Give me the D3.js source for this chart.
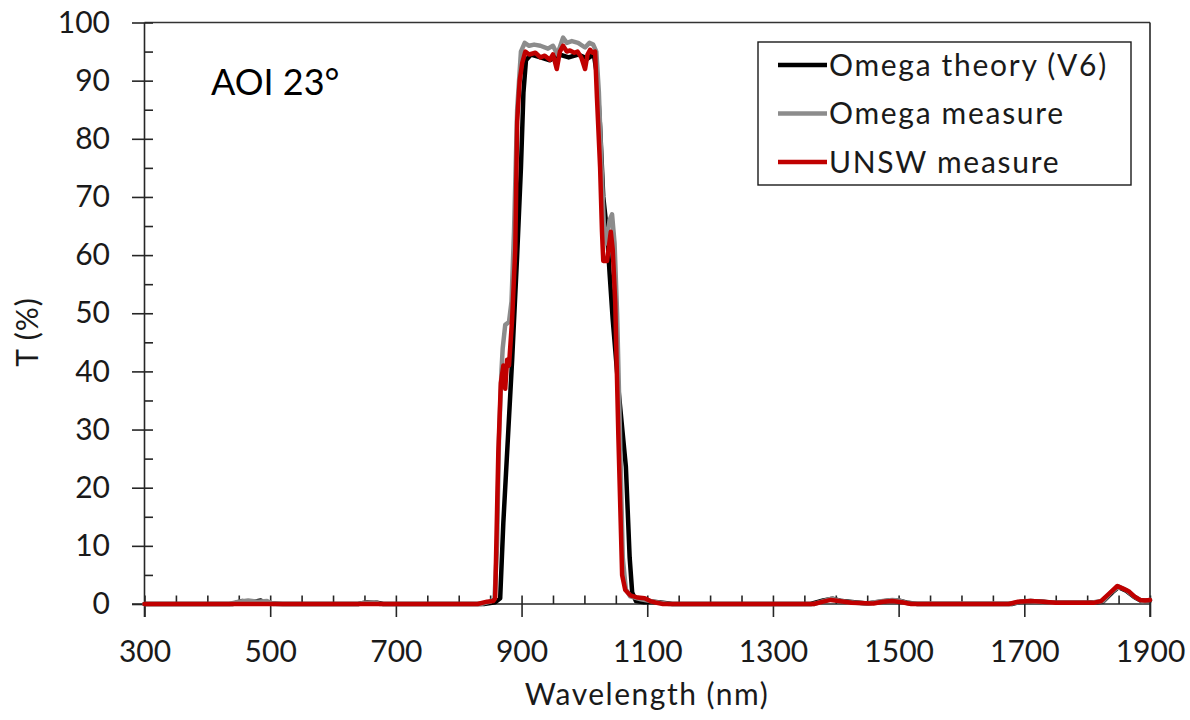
<!DOCTYPE html>
<html>
<head>
<meta charset="utf-8">
<script src="https://cdn.jsdelivr.net/npm/d3@7"></script>
<style>
  html, body { margin: 0; padding: 0; background: #fff; }
  svg { display: block; font-family: Lato, "Open Sans", sans-serif; }
  .tick text { fill: #1a1a1a; font-size: 30px; font-family: Lato, "Open Sans", sans-serif; }
  .tick line { stroke: #262626; stroke-width: 1.6; }
</style>
</head>
<body>
<svg id="chart" width="1190" height="720"></svg>
<script>
// Transmission spectra of the 900-1060 nm bandpass filter at 23° angle of incidence
const theoryWl = [300, 440, 455, 470, 485, 495, 520, 640, 655, 670, 680, 840, 858, 866, 871, 879, 885, 893, 899, 903, 907, 915, 930, 945, 960, 975, 990, 1005, 1015, 1020, 1025, 1030, 1036, 1040, 1045, 1055, 1066, 1072, 1076, 1082, 1095, 1110, 1125, 1140, 1360, 1380, 1395, 1410, 1430, 1450, 1470, 1485, 1500, 1515, 1530, 1680, 1695, 1710, 1730, 1745, 1800, 1825, 1840, 1850, 1862, 1875, 1885, 1900];
const theoryT  = [0, 0, 0.5, 0.3, 0.6, 0.1, 0, 0, 0.3, 0.2, 0, 0, 0.3, 1, 14, 30, 42, 60, 75, 88, 93.5, 94.5, 94, 93.5, 94.5, 94, 94.5, 93.8, 94.5, 91, 82, 70, 64, 57, 49, 36, 23.6, 8, 2, 0.5, 0.3, 0.4, 0.2, 0, 0, 0.6, 0.9, 0.5, 0.3, 0.1, 0.4, 0.6, 0.6, 0.2, 0, 0, 0.4, 0.5, 0.4, 0.2, 0.2, 0.4, 2.0, 2.9, 2.3, 1.2, 0.6, 0.6];

const omegaWl = [300, 435, 450, 465, 480, 495, 505, 640, 650, 665, 675, 835, 850, 857, 861, 864, 868, 870, 874, 880, 884, 888, 893, 899, 905, 912, 920, 930, 942, 950, 957, 966, 972, 980, 990, 1001, 1008, 1014, 1019, 1023, 1027, 1031, 1035, 1040, 1044, 1048, 1052, 1056, 1061, 1066, 1073, 1090, 1105, 1120, 1135, 1365, 1380, 1393, 1405, 1420, 1450, 1475, 1490, 1500, 1515, 1680, 1700, 1725, 1745, 1805, 1825, 1838, 1850, 1862, 1875, 1888, 1900];
const omegaT  = [0, 0, 0.4, 0.6, 0.4, 0.5, 0, 0, 0.2, 0.3, 0, 0, 0.4, 1, 10, 28, 40, 44, 48, 48.5, 52, 64, 85, 95, 96.5, 96, 96.2, 96, 95.5, 96, 94.5, 97.4, 96.5, 96.8, 96.5, 95.7, 96.5, 96.2, 95, 88, 76, 65, 62, 66, 67, 62, 50, 32, 8, 2.5, 1.3, 0.8, 0.5, 0.2, 0, 0, 0.5, 0.9, 0.6, 0.3, 0.1, 0.5, 0.7, 0.6, 0.1, 0.1, 0.5, 0.4, 0.2, 0.2, 0.5, 2.0, 3.0, 2.4, 1.3, 0.5, 0.7];

const unswWl = [300, 830, 845, 855, 858, 863, 867, 871, 874, 877, 880, 885, 890, 893, 897, 901, 906, 912, 922, 930, 937, 945, 950, 956, 961, 966, 972, 977, 984, 989, 995, 1001, 1005, 1009, 1013, 1017, 1020, 1025, 1028, 1030, 1036, 1042, 1045, 1049, 1054, 1060, 1065, 1073, 1085, 1096, 1105, 1115, 1125, 1365, 1380, 1392, 1405, 1425, 1460, 1475, 1490, 1505, 1520, 1675, 1690, 1710, 1730, 1750, 1810, 1822, 1835, 1848, 1858, 1866, 1875, 1884, 1892, 1900];
const unswT  = [0, 0, 0.4, 0.5, 1, 26, 38, 41, 37, 42, 41, 49, 61, 83, 90, 93, 95, 94.5, 94.8, 94, 94.3, 93.6, 94.5, 92, 95, 96, 95, 95.2, 94.8, 95, 94, 92, 94.5, 95.3, 94.8, 95, 87, 75, 64, 59, 59, 64, 61, 52, 29, 5, 2.4, 1.5, 1.1, 1, 0.5, 0.2, 0, 0, 0.4, 0.7, 0.5, 0.2, 0.1, 0.4, 0.5, 0.3, 0, 0, 0.4, 0.5, 0.4, 0.2, 0.2, 0.5, 1.8, 3.1, 2.6, 2.2, 1.3, 0.7, 0.6, 0.7];

const seriesNames  = ["Omega theory (V6)", "Omega measure", "UNSW measure"];
const seriesColors = ["#000000", "#8c8c8c", "#c00000"];
const xMajorTicks = [300, 500, 700, 900, 1100, 1300, 1500, 1700, 1900];
const yMajorTicks = [0, 10, 20, 30, 40, 50, 60, 70, 80, 90, 100];
const xAllTicks = d3.range(300, 1901, 50);
const yAllTicks = d3.range(0, 101, 5);

const svg = d3.select("#chart");
const plotLeft = 144.5, plotRight = 1150, plotTop = 22.5, plotBottom = 604;
const fontStack = 'Lato, "Open Sans", sans-serif';

const x = d3.scaleLinear().domain([300, 1900]).range([plotLeft, plotRight]);
const y = d3.scaleLinear().domain([0, 100]).range([plotBottom, plotTop]);

// plot frame: top and right borders
svg.append("line").attr("x1", plotLeft).attr("x2", plotRight).attr("y1", plotTop).attr("y2", plotTop)
  .attr("stroke", "#333").attr("stroke-width", 1.6);
svg.append("line").attr("x1", plotRight).attr("x2", plotRight).attr("y1", plotTop).attr("y2", plotBottom + 13)
  .attr("stroke", "#262626").attr("stroke-width", 1.6);

// y axis: major ticks cross the axis, minor ticks point inward
svg.append("g").attr("transform", `translate(${plotLeft},0)`)
  .call(d3.axisLeft(y).tickValues(yMajorTicks).tickSize(12.5).tickPadding(22).tickFormat(d3.format("d")))
  .attr("font-family", fontStack)
  .call(g => g.select(".domain").remove());
svg.append("g").attr("transform", `translate(${plotLeft},0)`)
  .call(d3.axisLeft(y).tickValues(yAllTicks).tickSize(-8.5).tickFormat(""))
  .call(g => g.select(".domain").remove());

// x axis
svg.append("g").attr("transform", `translate(0,${plotBottom})`)
  .call(d3.axisBottom(x).tickValues(xMajorTicks).tickSize(13).tickPadding(23.5).tickFormat(d3.format("d")))
  .attr("font-family", fontStack)
  .call(g => g.select(".domain").remove());
svg.append("g").attr("transform", `translate(0,${plotBottom})`)
  .call(d3.axisBottom(x).tickValues(xAllTicks).tickSize(-8.5).tickFormat(""))
  .call(g => g.select(".domain").remove());

// axis lines
svg.append("line").attr("x1", plotLeft).attr("x2", plotLeft).attr("y1", plotTop).attr("y2", plotBottom + 13)
  .attr("stroke", "#262626").attr("stroke-width", 1.6);
svg.append("line").attr("x1", plotLeft - 12.5).attr("x2", plotRight).attr("y1", plotBottom).attr("y2", plotBottom)
  .attr("stroke", "#262626").attr("stroke-width", 1.6);

// spectra
const line = d3.line().x(d => x(d[0])).y(d => y(d[1]));
const seriesData = [
  d3.zip(theoryWl, theoryT),
  d3.zip(omegaWl, omegaT),
  d3.zip(unswWl, unswT)
];
seriesData.forEach((pts, i) => {
  svg.append("path").datum(pts)
    .attr("d", line)
    .attr("fill", "none")
    .attr("stroke", seriesColors[i])
    .attr("stroke-width", 4.5)
    .attr("stroke-linejoin", "round")
    .attr("stroke-linecap", "round");
});

// axis titles
svg.append("text").attr("x", 647).attr("y", 705).attr("text-anchor", "middle")
  .attr("font-size", 30).attr("letter-spacing", 1.5).attr("fill", "#1a1a1a").text("Wavelength (nm)");
svg.append("text").attr("transform", "translate(38,332) rotate(-90)").attr("text-anchor", "middle")
  .attr("font-size", 30).attr("letter-spacing", 1).attr("fill", "#1a1a1a").text("T (%)");

// angle annotation
svg.append("text").attr("x", 211).attr("y", 95).attr("font-size", 36).attr("fill", "#000")
  .text("AOI 23°");

// legend
const legend = svg.append("g");
legend.append("rect").attr("x", 758).attr("y", 42).attr("width", 373).attr("height", 143)
  .attr("fill", "#fff").attr("stroke", "#1a1a1a").attr("stroke-width", 1.4);
seriesNames.forEach((name, i) => {
  const ly = 65 + i * 48.5;
  legend.append("line").attr("x1", 778).attr("x2", 827).attr("y1", ly).attr("y2", ly)
    .attr("stroke", seriesColors[i]).attr("stroke-width", 4.5);
  legend.append("text").attr("x", 829).attr("y", ly).attr("dy", "0.36em")
    .attr("font-size", 30).attr("letter-spacing", 1.7).attr("fill", "#1a1a1a").text(name);
});
</script>
</body>
</html>
